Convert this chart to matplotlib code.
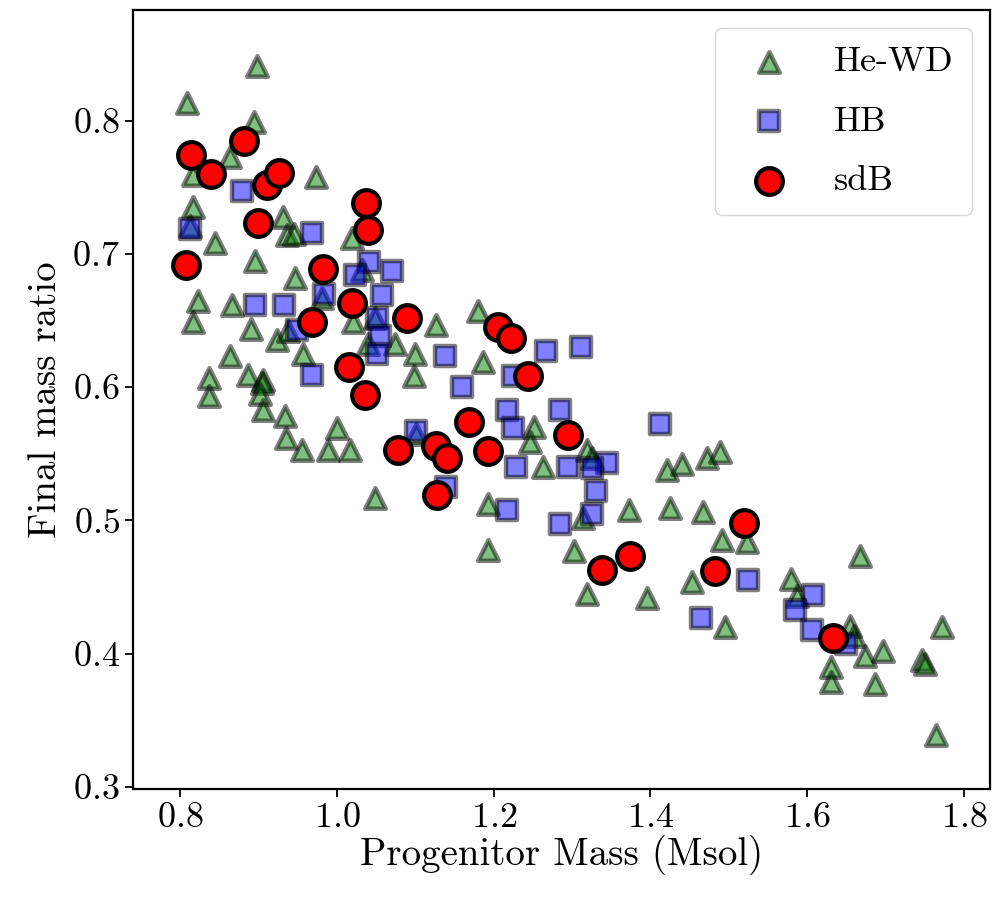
import numpy as np
import matplotlib
matplotlib.use("Agg")
import matplotlib.pyplot as plt

plt.rcParams['font.family'] = 'serif'
plt.rcParams['font.serif'] = ['cmr10', 'DejaVu Serif']
plt.rcParams['mathtext.fontset'] = 'cm'
plt.rcParams['axes.formatter.use_mathtext'] = True

##################################
# Progenitor mass vs final mass ratio

# He white dwarfs
hewd_m = [0.898, 0.809, 0.894, 0.864, 0.817, 0.973, 0.817, 0.813, 0.844, 0.931,
          0.936, 0.945, 1.019, 0.896, 1.032, 0.947, 0.823, 0.866, 0.817, 0.891,
          0.923, 0.938, 0.981, 1.021, 1.049, 1.040, 1.074, 1.100, 1.127, 1.180,
          1.186, 1.098, 0.957, 0.864, 0.887, 0.837, 0.837, 0.906, 0.904, 0.902,
          0.906, 0.934, 0.935, 0.955, 1.000, 0.989, 1.017, 1.049, 1.101, 1.251,
          1.246, 1.263, 1.319, 1.325, 1.193, 1.193, 1.314, 1.302, 1.372, 1.421,
          1.440, 1.472, 1.489, 1.425, 1.467, 1.491, 1.523, 1.319, 1.395, 1.453,
          1.495, 1.667, 1.579, 1.587, 1.655, 1.659, 1.674, 1.697, 1.772, 1.746,
          1.750, 1.630, 1.630, 1.686, 1.764]
hewd_q = [0.841, 0.813, 0.799, 0.773, 0.759, 0.758, 0.735, 0.721, 0.708, 0.728,
          0.714, 0.715, 0.712, 0.695, 0.688, 0.682, 0.665, 0.662, 0.649, 0.644,
          0.635, 0.642, 0.667, 0.649, 0.652, 0.632, 0.632, 0.625, 0.647, 0.657,
          0.619, 0.608, 0.625, 0.623, 0.609, 0.607, 0.593, 0.605, 0.603, 0.595,
          0.583, 0.578, 0.562, 0.553, 0.569, 0.553, 0.553, 0.517, 0.565, 0.570,
          0.559, 0.540, 0.553, 0.547, 0.512, 0.478, 0.502, 0.477, 0.508, 0.538,
          0.542, 0.547, 0.551, 0.509, 0.506, 0.485, 0.484, 0.445, 0.442, 0.454,
          0.420, 0.473, 0.456, 0.443, 0.421, 0.413, 0.398, 0.402, 0.420, 0.395,
          0.392, 0.390, 0.379, 0.377, 0.339]

# horizontal branch
hb_m = [0.879, 0.813, 0.968, 1.041, 1.070, 1.023, 1.057, 0.983, 0.896, 0.932,
        0.949, 1.051, 1.055, 1.051, 0.968, 1.138, 1.159, 1.267, 1.312, 1.225,
        1.217, 1.285, 1.225, 1.412, 1.101, 1.229, 1.295, 1.344, 1.325, 1.331,
        1.325, 1.285, 1.217, 1.139, 1.524, 1.465, 1.607, 1.584, 1.606, 1.650]
hb_q = [0.747, 0.719, 0.716, 0.694, 0.687, 0.684, 0.669, 0.670, 0.662, 0.662,
        0.643, 0.652, 0.638, 0.625, 0.609, 0.623, 0.600, 0.627, 0.630, 0.608,
        0.583, 0.583, 0.569, 0.572, 0.567, 0.540, 0.540, 0.543, 0.539, 0.522,
        0.505, 0.497, 0.508, 0.525, 0.455, 0.427, 0.444, 0.433, 0.418, 0.407]

# hot subdwarfs
sdb_m = [0.881, 0.814, 0.840, 0.911, 0.926, 0.899, 1.037, 1.040, 0.808, 0.982,
         1.019, 0.968, 1.090, 1.015, 1.036, 1.205, 1.222, 1.244, 1.168, 1.078,
         1.127, 1.140, 1.193, 1.295, 1.128, 1.338, 1.374, 1.519, 1.482, 1.633]
sdb_q = [0.785, 0.774, 0.760, 0.752, 0.761, 0.723, 0.738, 0.718, 0.692, 0.689,
         0.663, 0.649, 0.652, 0.615, 0.594, 0.645, 0.637, 0.608, 0.574, 0.553,
         0.556, 0.547, 0.552, 0.564, 0.519, 0.463, 0.473, 0.498, 0.462, 0.412]

##########################
# Graphics

fig = plt.figure(figsize=(10.04, 8.99), dpi=100)
ax = fig.add_axes([0.1325, 0.1224, 0.8535, 0.8665])

ax.scatter(hewd_m, hewd_q, marker='^', s=220, c='green', alpha=0.5,
           edgecolors='k', linewidths=3.2, label='He-WD')
ax.scatter(hb_m, hb_q, marker='s', s=210, c='blue', alpha=0.5,
           edgecolors='k', linewidths=3.2, label='HB')
ax.scatter(sdb_m, sdb_q, marker='o', s=370, c='red',
           edgecolors='k', linewidths=3.0, label='sdB')

ax.set_xlim(0.74, 1.833)
ax.set_ylim(0.2985, 0.883)
ax.set_xticks(np.arange(0.8, 1.81, 0.2))
ax.set_yticks(np.arange(0.3, 0.81, 0.1))

for sp in ax.spines.values():
    sp.set_linewidth(1.6)
ax.tick_params(labelsize=26, length=6, width=1.3)

ax.set_xlabel("Progenitor Mass (Msol)", fontsize=28, labelpad=1)
ax.set_ylabel("Final mass ratio", fontsize=28, labelpad=6)

ax.legend(loc='upper right', fontsize=26, scatterpoints=1,
          labelspacing=0.75, borderpad=0.5)

plt.savefig("out.png", dpi=100)
